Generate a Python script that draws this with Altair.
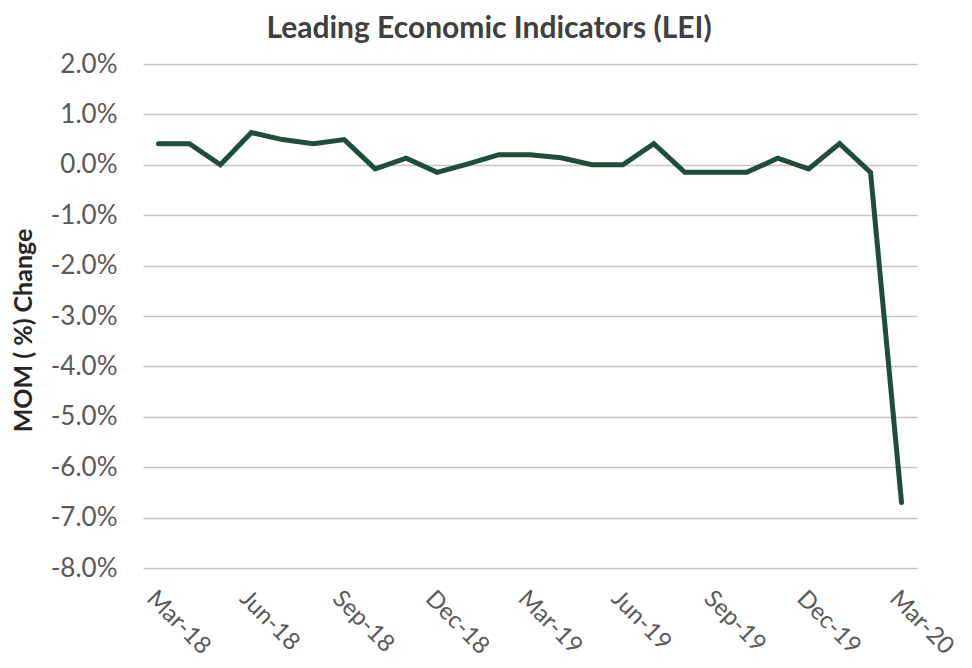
import altair as alt
import pandas as pd

months = ["Mar-18", "Apr-18", "May-18", "Jun-18", "Jul-18", "Aug-18", "Sep-18",
          "Oct-18", "Nov-18", "Dec-18", "Jan-19", "Feb-19", "Mar-19", "Apr-19",
          "May-19", "Jun-19", "Jul-19", "Aug-19", "Sep-19", "Oct-19", "Nov-19",
          "Dec-19", "Jan-20", "Feb-20", "Mar-20"]
mom_change = [0.42, 0.42, 0.0, 0.64, 0.5, 0.42, 0.5, -0.08, 0.13, -0.15,
              0.02, 0.2, 0.2, 0.14, 0.0, 0.0, 0.42, -0.15, -0.15, -0.15,
              0.13, -0.08, 0.42, -0.15, -6.7]
y_ticks = [2, 1, 0, -1, -2, -3, -4, -5, -6, -7, -8]
shown_labels = ["Mar-18", "Jun-18", "Sep-18", "Dec-18", "Mar-19", "Jun-19",
                "Sep-19", "Dec-19", "Mar-20"]

df = pd.DataFrame({"month": months, "value": mom_change})

FONT = "Lato"
TXT = "#595959"

shown_js = "[" + ",".join("'" + s + "'" for s in shown_labels) + "]"

chart = alt.Chart(df).mark_line(
    color="#1e4d38", strokeWidth=5, strokeCap="round", strokeJoin="miter"
).encode(
    x=alt.X("month:O", sort=months, title=None,
            scale=alt.Scale(type="point", padding=0.5),
            axis=alt.Axis(labelAngle=45, labelAlign="left", labelBaseline="top",
                          labelExpr="indexof(" + shown_js + ", datum.value) >= 0 ? datum.value : ''",
                          ticks=False, domain=False, grid=False, labelPadding=18,
                          labelFontSize=24, labelColor=TXT, labelFont=FONT,
                          labelOverlap=False, labelBound=False, labelFlush=False)),
    y=alt.Y("value:Q", title="MOM ( %) Change",
            scale=alt.Scale(domain=[-8, 2], nice=False, zero=False),
            axis=alt.Axis(values=y_ticks,
                          labelExpr="(datum.value < 0 ? '-' : '') + format(abs(datum.value), '.1f') + '%'",
                          ticks=False, domain=False, grid=True, gridColor="#c6c6c6",
                          gridWidth=1.5, labelPadding=26, labelFontSize=26,
                          labelColor=TXT, labelFont=FONT, titleFont=FONT,
                          titleFontSize=25, titleFontWeight="bold", titleColor="#262626",
                          titleX=-120, titleY=266, titleAngle=270,
                          titleAlign="center", titleBaseline="middle")),
).properties(
    width=774, height=504,
    title=alt.TitleParams("Leading Economic Indicators (LEI)", font=FONT, fontSize=30,
                          fontWeight="bold", color="#404040", offset=7, anchor="middle",
                          dx=-41),
    autosize=alt.AutoSizeParams(type="none"),
    padding={"left": 135, "top": 56, "right": 47, "bottom": 92},
    background="white",
).configure_view(stroke=None)

chart.save("out.html", embed_options={"renderer": "svg", "actions": False})
